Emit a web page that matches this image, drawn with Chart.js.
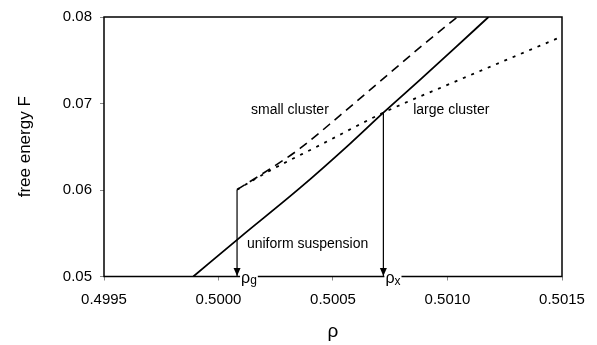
<!DOCTYPE html>
<html>
<head>
<meta charset="utf-8">
<script src="https://cdn.jsdelivr.net/npm/chart.js@4.4.1/dist/chart.umd.min.js"></script>
<style>
html, body { margin: 0; padding: 0; background: #fff; }
#wrap { width: 597px; height: 345px; }
</style>
</head>
<body>
<div id="wrap"><canvas id="chart"></canvas></div>
<script>
// free energy branches vs density
const uniformRho = [0.49989, 0.500094, 0.500356, 0.500575, 0.50072, 0.500881, 0.501034, 0.501179];
const uniformF   = [0.0500, 0.05453, 0.06024, 0.06537, 0.06894, 0.07276, 0.07646, 0.0800];

const smallRho = [0.500081, 0.500225, 0.500356, 0.500531, 0.500706, 0.500881, 0.501043];
const smallF   = [0.06004, 0.06244, 0.06480, 0.06863, 0.07257, 0.07651, 0.0800];

const largeRho = [0.500081, 0.50022, 0.500444, 0.50072, 0.501012, 0.5015];
const largeF   = [0.06004, 0.06218, 0.0652, 0.06894, 0.07229, 0.07775];

// transition densities
const rhoG = 0.500081;
const rhoX = 0.50072;
const fG = 0.06004;
const fX = 0.06894;

const xTicks = [0.4995, 0.5000, 0.5005, 0.5010, 0.5015];
const yTicks = [0.05, 0.06, 0.07, 0.08];
const xMin = 0.4995, xMax = 0.5015, yMin = 0.05, yMax = 0.08;

function pts(xs, ys) {
    return xs.map((x, i) => ({ x: x, y: ys[i] }));
}

const FONT = "'Liberation Sans', Arial, sans-serif";

// frame, arrow heads and text labels
const decorations = {
    id: 'decorations',
    afterDatasetsDraw(chart) {
        const { ctx, chartArea: a, scales: { x, y } } = chart;
        ctx.save();

        // box around the plot
        ctx.strokeStyle = '#000';
        ctx.lineWidth = 1.5;
        ctx.strokeRect(a.left, a.top, a.right - a.left, a.bottom - a.top);

        // arrow heads at the bottom of the drop lines
        ctx.fillStyle = '#000';
        chart.data.datasets.forEach((ds, i) => {
            if (!ds.arrow) return;
            const meta = chart.getDatasetMeta(i);
            const p = meta.data[meta.data.length - 1];
            ctx.beginPath();
            ctx.moveTo(p.x, p.y - 0.5);
            ctx.lineTo(p.x - 3.5, p.y - 8.5);
            ctx.lineTo(p.x + 3.5, p.y - 8.5);
            ctx.closePath();
            ctx.fill();
        });

        // branch names
        ctx.font = '14px ' + FONT;
        ctx.textAlign = 'left';
        ctx.textBaseline = 'middle';
        const notes = [
            { text: 'small cluster', rho: 0.500142, F: 0.06919 },
            { text: 'large cluster', rho: 0.500850, F: 0.06925 },
            { text: 'uniform suspension', rho: 0.500124, F: 0.05377 }
        ];
        notes.forEach(n => ctx.fillText(n.text, x.getPixelForValue(n.rho), y.getPixelForValue(n.F)));

        // rho_g and rho_x on the axis
        const marks = [
            { sub: 'g', rho: rhoG, dx: 4 },
            { sub: 'x', rho: rhoX, dx: 2 }
        ];
        marks.forEach(m => {
            const px = x.getPixelForValue(m.rho) + m.dx;
            const py = y.getPixelForValue(yMin);
            ctx.font = '16px ' + FONT;
            const w1 = ctx.measureText('ρ').width;
            ctx.font = '12px ' + FONT;
            const w2 = ctx.measureText(m.sub).width;
            ctx.fillStyle = '#fff';
            ctx.fillRect(px - 1, py - 2, w1 + w2 + 2, 14);
            ctx.fillStyle = '#000';
            ctx.textBaseline = 'alphabetic';
            ctx.font = '16px ' + FONT;
            ctx.fillText('ρ', px, py + 6.5);
            ctx.font = '12px ' + FONT;
            ctx.fillText(m.sub, px + w1, py + (m.sub === 'g' ? 7 : 8.5));
        });

        ctx.restore();
    }
};

const lineBase = {
    showLine: true,
    pointRadius: 0,
    pointHoverRadius: 0,
    fill: false,
    borderColor: '#000',
    cubicInterpolationMode: 'monotone'
};

new Chart(document.getElementById('chart'), {
    type: 'scatter',
    data: {
        datasets: [
            Object.assign({}, lineBase, { label: 'uniform suspension', data: pts(uniformRho, uniformF), borderWidth: 1.8 }),
            Object.assign({}, lineBase, { label: 'small cluster', data: pts(smallRho, smallF), borderWidth: 1.6, borderDash: [9, 6] }),
            Object.assign({}, lineBase, { label: 'large cluster', data: pts(largeRho, largeF), borderWidth: 1.8, borderDash: [3, 6] }),
            Object.assign({}, lineBase, { label: 'rho g', data: [{ x: rhoG, y: fG }, { x: rhoG, y: yMin }], borderWidth: 1.2, arrow: true }),
            Object.assign({}, lineBase, { label: 'rho x', data: [{ x: rhoX, y: fX }, { x: rhoX, y: yMin }], borderWidth: 1.2, arrow: true })
        ]
    },
    options: {
        responsive: true,
        maintainAspectRatio: false,
        animation: false,
        events: [],
        layout: { padding: { top: 10, right: 35, left: 0, bottom: 0 } },
        plugins: {
            legend: { display: false },
            tooltip: { enabled: false }
        },
        scales: {
            x: {
                type: 'linear',
                min: xMin,
                max: xMax,
                afterBuildTicks: s => { s.ticks = xTicks.map(v => ({ value: v })); },
                afterFit: s => { s.height = 68.5; },
                border: { display: false },
                grid: { drawOnChartArea: false, drawTicks: true, tickLength: 4, color: '#888' },
                ticks: {
                    padding: 10,
                    maxRotation: 0,
                    color: '#000',
                    font: { family: FONT, size: 15 },
                    callback: v => v.toFixed(4)
                },
                title: {
                    display: true,
                    text: 'ρ',
                    color: '#000',
                    font: { family: FONT, size: 19 },
                    padding: { top: 0, bottom: 2 }
                }
            },
            y: {
                type: 'linear',
                min: yMin,
                max: yMax,
                afterBuildTicks: s => { s.ticks = yTicks.map(v => ({ value: v })); },
                afterFit: s => { s.width = 104; },
                border: { display: false },
                grid: { drawOnChartArea: false, drawTicks: true, tickLength: 4, color: '#888' },
                ticks: {
                    padding: 8,
                    color: '#000',
                    font: { family: FONT, size: 15 },
                    callback: v => v.toFixed(2)
                },
                title: {
                    display: true,
                    text: 'free energy F',
                    color: '#000',
                    font: { family: FONT, size: 17 },
                    padding: { top: 15, bottom: 0 }
                }
            }
        }
    },
    plugins: [decorations]
});
</script>
</body>
</html>
